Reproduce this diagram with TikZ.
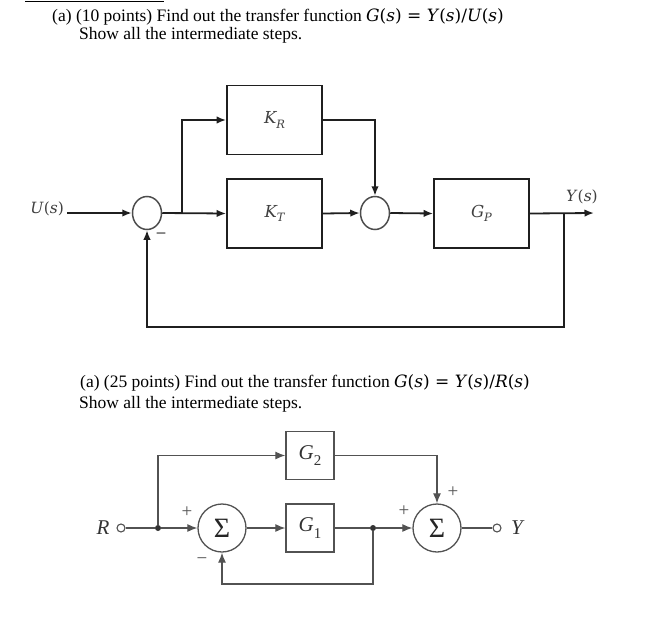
\documentclass[tikz,border=0pt]{standalone}
\usepackage{fontspec}
\setmainfont{Liberation Serif}
\newfontfamily\mathish{DejaVu Serif}
\usetikzlibrary{arrows.meta,shapes.geometric}
\newcommand{\mi}[1]{{\mathish\itshape #1}}
\newcommand{\subA}[1]{\raisebox{-0.25em}{\fontsize{11.5}{11.5}\selectfont\mathish\itshape #1}}
\newcommand{\subB}[1]{\raisebox{-0.3em}{\fontsize{15}{15}\selectfont #1}}
\begin{document}
\begin{tikzpicture}[x=1pt,y=-1pt,
  txt/.style={font=\fontsize{17.5}{19}\selectfont,inner sep=0,anchor=base west},
  blkA/.style={draw=black!88,line width=1.8pt,minimum width=95pt,minimum height=69pt,inner sep=0,font=\fontsize{16.5}{16.5}\selectfont,text=black!75},
  sumA/.style={draw=black!70,line width=1.5pt,ellipse,minimum width=29pt,minimum height=33pt,inner sep=0},
  wireA/.style={draw=black!88,line width=1.8pt},
  arrA/.style={wireA,-{Latex[length=9.5pt,width=7.5pt]}},
  lblA/.style={font=\fontsize{15.5}{16}\selectfont,inner sep=0,text=black!75},
  blkB/.style={draw=black!68,line width=1.3pt,minimum width=48pt,minimum height=48pt,inner sep=0,font=\fontsize{21}{21}\selectfont,text=black!80},
  sumB/.style={draw=black!68,line width=1.3pt,circle,minimum size=48pt,inner sep=0,font=\fontsize{28}{28}\selectfont,text=black!85},
  wireB/.style={draw=black!68,line width=1.2pt},
  arrB/.style={wireB,-{Latex[length=10pt,width=8pt]}},
  dotB/.style={circle,fill=black!80,minimum size=6pt,inner sep=0},
  ocB/.style={circle,draw=black!68,line width=1.1pt,fill=white,minimum size=8pt,inner sep=0},
  lblB/.style={font=\fontsize{21}{21}\selectfont,inner sep=0,text=black!80},
  sgnB/.style={font=\fontsize{19}{19}\selectfont,inner sep=0,text=black!68},
 ]
\useasboundingbox (0,0) rectangle (657,635);

% header rule and texts
\coordinate (r1) at (25,1.5);
\coordinate (r2) at (164,1.5);
\draw[line width=1.6pt] (r1) -- (r2);
\node[txt] (t1) at (52,21) {(a) (10 points) Find out the transfer function {\mathish\fontsize{17}{19}\selectfont\textit{G}(\textit{s}) = \textit{Y}(\textit{s})/\textit{U}(\textit{s})}};
\node[txt] (t2) at (79,39) {Show all the intermediate steps.};

% diagram 1
\node[sumA] (s1) at (147,213) {};
\node[sumA] (s2) at (375,213) {};
\node[blkA] (kr) at (274.5,120) {\mi{K}\subA{R}};
\node[blkA] (kt) at (274.5,213.5) {\mi{K}\subA{T}};
\node[blkA] (gp) at (481.5,213.5) {\mi{G}\subA{P}};
\node[lblA,anchor=east] (u) at (64,209) {{\mathish\textit{U}(\textit{s})}};
\node[lblA] (y) at (582,197) {{\mathish\textit{Y}(\textit{s})}};
\node[lblA,font=\fontsize{17}{17}\selectfont\bfseries] (m1) at (161,235) {–};

\coordinate (uin) at (67,213);
\coordinate (b1) at (182,213);
\coordinate (b2) at (564,213);
\coordinate (yout) at (594,213);
\coordinate (fb) at (564,327);

\draw[arrA] (uin) -- (s1.west);
\draw[arrA] (s1.east) -- (kt.west);
\draw[arrA] (b1) |- (kr.west);
\draw[arrA] (kr.east) -| (s2.north);
\draw[arrA] (kt.east) -- (s2.west);
\draw[arrA] (s2.east) -- (gp.west);
\draw[arrA] (gp.east) -- (yout);
\draw[arrA] (b2) -- (fb) -| (s1.south);

% second header
\node[txt] (t3) at (80,387) {(a) (25 points) Find out the transfer function {\mathish\fontsize{17}{19}\selectfont\textit{G}(\textit{s}) = \textit{Y}(\textit{s})/\textit{R}(\textit{s})}};
\node[txt] (t4) at (79,408) {Show all the intermediate steps.};

% diagram 2
\node[lblB] (R) at (103,528) {\textit{R}};
\node[ocB] (rin) at (121,528) {};
\node[dotB] (d1) at (158,528) {};
\node[sumB] (S1) at (222,528) {Σ};
\node[blkB] (G2) at (310,455.5) {\textit{G}\subB{2}};
\node[blkB] (G1) at (310,528) {\textit{G}\subB{1}};
\node[dotB] (d2) at (373,528) {};
\node[sumB] (S2) at (437,528) {Σ};
\node[ocB] (yo) at (497,528) {};
\node[lblB] (Y) at (518,528) {\textit{Y}};
\node[sgnB] (p1) at (187,512) {+};
\node[sgnB] (n1) at (202,561) {−};
\node[sgnB] (p2) at (404,511) {+};
\node[sgnB] (p3) at (453,492) {+};

\coordinate (fb2) at (373,584);

\draw[wireB] (rin.east) -- (d1);
\draw[arrB] (d1) -- (S1.west);
\draw[arrB] (d1) |- (G2.west);
\draw[arrB] (S1.east) -- (G1.west);
\draw[wireB] (G1.east) -- (d2);
\draw[arrB] (d2) -- (S2.west);
\draw[arrB] (G2.east) -| (S2.north);
\draw[wireB] (S2.east) -- (yo.west);
\draw[arrB] (d2) -- (fb2) -| (S1.south);
\end{tikzpicture}
\end{document}
